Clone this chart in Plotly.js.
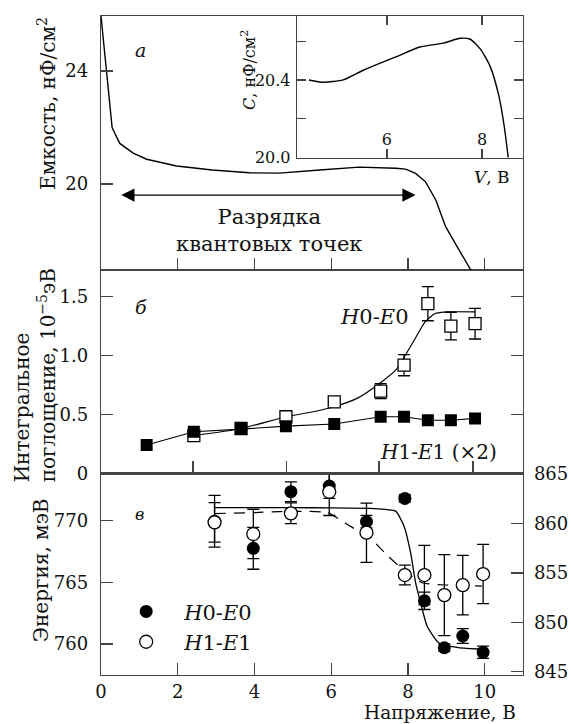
<!DOCTYPE html>
<html><head><meta charset="utf-8">
<script src="https://cdn.plot.ly/plotly-3.0.1.min.js"></script>
<style>body{margin:0;background:#fff}</style>
</head><body><div id="chart" style="width:571px;height:724px"></div>
<script>
// ---- Panel a: capacitance vs voltage ----
const capV = [0, 0.29, 0.36, 0.49, 0.84, 1.19, 1.97, 2.9, 3.87, 4.65, 5.7, 6.73, 7.68, 7.94, 8.2, 8.46, 8.73, 8.98, 9.32, 9.64];
const capC = [25.95, 22.0, 21.8, 21.44, 21.1, 20.88, 20.64, 20.5, 20.4, 20.39, 20.5, 20.6, 20.56, 20.53, 20.38, 20.08, 19.43, 18.5, 17.7, 16.96];
// inset
const insV = [4.36, 4.66, 5.08, 5.5, 5.99, 6.2, 6.69, 7.19, 7.54, 7.75, 7.96, 8.17, 8.35, 8.46, 8.55];
const insC = [20.40, 20.388, 20.40, 20.45, 20.50, 20.52, 20.57, 20.59, 20.615, 20.61, 20.56, 20.47, 20.32, 20.17, 20.0];
const insYTicks = [20.0, 20.2, 20.4, 20.6];
const insYText = ['20.0', ' ', '20.4', ' '];
const insXTicks = [6, 8];

// ---- Panel b: integrated absorption ----
const bV_H1 = [1.19, 2.42, 3.65, 4.82, 6.08, 7.29, 7.9, 8.52, 9.12, 9.75];
const absH1 = [0.24, 0.353, 0.375, 0.40, 0.418, 0.48, 0.48, 0.45, 0.45, 0.466];
const bV_H0 = [2.42, 3.65, 4.82, 6.08, 7.29, 7.9, 8.52, 9.12, 9.75];
const absH0 = [0.32, 0.38, 0.48, 0.607, 0.697, 0.918, 1.44, 1.25, 1.27];
const absH0Err = [null, null, null, null, 0.064, 0.09, 0.145, 0.117, 0.13];
const fitBV = [2.42, 3.65, 4.82, 5.5, 6.08, 6.7, 7.25, 7.68, 8.11, 8.45, 8.71, 9.06, 9.75];
const fitBY = [0.32, 0.38, 0.48, 0.52, 0.565, 0.64, 0.76, 0.875, 1.10, 1.285, 1.356, 1.37, 1.37];
const bTicks = [2.4, 4.83, 7.25, 9.7];
const bYTicks = [0, 0.5, 1.0, 1.5];
const bYText = ['0', '0.5', '1.0', '1.5'];

// ---- Panel c: energy ----
const cV = [2.96, 3.97, 4.95, 5.95, 6.92, 7.92, 8.43, 8.95, 9.43, 9.96];
const enH0 = [769.95, 767.76, 772.35, 772.81, 769.92, 771.8, 763.5, 759.7, 760.65, 759.33];
const enH0Err = [2.1, 1.7, 0.8, 1.0, 0.5, 0.3, 0.7, 0.3, 0.6, 0.5];
const enH1 = [860.11, 858.93, 861.02, 863.2, 859.06, 854.78, 854.78, 852.75, 853.76, 854.88];
const enH1Err = [2.0, 2.5, 1.05, 2.4, 3.0, 1.0, 3.0, 4.1, 3.0, 3.0];
const fitCV = [2.96, 4.0, 5.0, 6.0, 7.0, 7.25, 7.68, 7.9, 8.07, 8.2, 8.33, 8.5, 8.8, 9.32, 9.96];
const fitCE = [771.06, 771.06, 771.06, 771.03, 771.0, 770.95, 770.77, 769.55, 767.4, 764.97, 763.35, 761.46, 760.1, 759.7, 759.57];
const dashV = [2.96, 4.0, 4.65, 5.9, 6.38, 7.07, 7.5, 7.94, 8.37, 8.98, 9.93];
const dashE = [861.0, 861.1, 861.2, 861.1, 860.0, 858.3, 856.63, 855.11, 854.0, 853.77, 853.66];
const xTicks = [0, 2, 4, 6, 8, 10];
const leftTicks = [760, 765, 770];
const rightTicks = [845, 850, 855, 860, 865];

const AX = '#444';
const FONT = 'DejaVu Serif';
const BLK = '#000';

const traces = [
  {x: capV, y: capC, xaxis: 'x3', yaxis: 'y3', mode: 'lines', line: {color: BLK, width: 1.4}, showlegend: false},
  {x: insV, y: insC, xaxis: 'x4', yaxis: 'y5', mode: 'lines', line: {color: BLK, width: 1.4, shape: 'spline', smoothing: 0.6}, showlegend: false},
  {x: fitBV, y: fitBY, xaxis: 'x2', yaxis: 'y2', mode: 'lines', line: {color: BLK, width: 1.2, shape: 'spline', smoothing: 0.6}, showlegend: false},
  {x: bV_H0, y: absH0, xaxis: 'x2', yaxis: 'y2', mode: 'markers', showlegend: false,
   marker: {symbol: 'square', size: 12, color: '#fff', line: {color: BLK, width: 1.3}},
   error_y: {type: 'data', array: absH0Err, visible: true, color: BLK, thickness: 1.3, width: 6}},
  {x: bV_H1, y: absH1, xaxis: 'x2', yaxis: 'y2', mode: 'lines+markers', showlegend: false,
   line: {color: BLK, width: 1.1},
   marker: {symbol: 'square', size: 12, color: BLK}},
  {x: fitCV, y: fitCE, xaxis: 'x', yaxis: 'y', mode: 'lines', line: {color: BLK, width: 1.3, shape: 'spline', smoothing: 0.5}, showlegend: false},
  {x: cV, y: enH0, xaxis: 'x', yaxis: 'y', mode: 'markers', name: '<i>H</i>0-<i>E</i>0',
   marker: {symbol: 'circle', size: 13, color: BLK},
   error_y: {type: 'data', array: enH0Err, visible: true, color: BLK, thickness: 1.3, width: 6}},
  {x: dashV, y: dashE, xaxis: 'x', yaxis: 'y4', mode: 'lines', line: {color: BLK, width: 1.2, dash: '11px,8px', shape: 'spline', smoothing: 0.5}, showlegend: false},
  {x: cV, y: enH1, xaxis: 'x', yaxis: 'y4', mode: 'markers', name: '<i>H</i>1-<i>E</i>1',
   marker: {symbol: 'circle', size: 13, color: '#fff', line: {color: BLK, width: 1.3}},
   error_y: {type: 'data', array: enH1Err, visible: true, color: BLK, thickness: 1.3, width: 6}}
];

const base = {showgrid: false, zeroline: false, showline: true, linecolor: AX, linewidth: 1.3,
  ticks: 'inside', ticklen: 12, tickwidth: 1.3, tickcolor: AX, tickfont: {family: FONT, size: 18, color: '#111'}};

function pa(o) { return Object.assign({xref: 'paper', yref: 'paper', xanchor: 'center', yanchor: 'middle', showarrow: false}, o); }
function da(o) { return Object.assign({xanchor: 'center', yanchor: 'middle', showarrow: false}, o); }

const layout = {
  width: 571, height: 724,
  margin: {l: 101, r: 48, t: 16, b: 49},
  paper_bgcolor: '#fff', plot_bgcolor: 'rgba(0,0,0,0)',
  font: {family: FONT, size: 18, color: '#111'},
  showlegend: true,
  legend: {x: 0.017, y: 0.127, xanchor: 'left', yanchor: 'top', bgcolor: 'rgba(0,0,0,0)',
           itemwidth: 66, font: {family: FONT, size: 21, color: '#111'}, tracegroupgap: 0},
  xaxis: Object.assign({}, base, {domain: [0, 1], anchor: 'y', range: [0, 11], tickvals: xTicks, mirror: true, ticklabelstandoff: 0}),
  yaxis: Object.assign({}, base, {domain: [0, 0.3061], anchor: 'x', range: [757.49, 773.84], tickvals: leftTicks, ticklabelstandoff: 8}),
  yaxis4: Object.assign({}, base, {overlaying: 'y', side: 'right', anchor: 'x', range: [844.67, 865.07], tickvals: rightTicks, ticklabelstandoff: 6}),
  xaxis2: Object.assign({}, base, {domain: [0, 1], anchor: 'y2', range: [0, 11], tickvals: bTicks, showticklabels: false, mirror: true}),
  yaxis2: Object.assign({}, base, {domain: [0.3061, 0.6146], anchor: 'x2', range: [0, 1.726], tickvals: bYTicks, ticktext: bYText, mirror: 'ticks', ticklabelstandoff: 8}),
  xaxis3: Object.assign({}, base, {domain: [0, 1], anchor: 'y3', range: [0, 11], tickvals: xTicks, showticklabels: false, mirror: true}),
  yaxis3: Object.assign({}, base, {domain: [0.6146, 1], anchor: 'x3', range: [16.96, 25.95], tickvals: [20, 24], mirror: true, ticklabelstandoff: 8}),
  xaxis4: Object.assign({}, base, {domain: [0.4645, 1], anchor: 'y5', range: [4.11, 8.86], tickvals: insXTicks, ticklen: 9,
            mirror: 'ticks', ticklabelstandoff: -34, tickfont: {family: FONT, size: 16, color: '#111'}}),
  yaxis5: Object.assign({}, base, {domain: [0.7845, 1], anchor: 'x4', range: [19.997, 20.73], tickvals: insYTicks, ticktext: insYText, ticklen: 9,
            mirror: 'ticks', ticklabelstandoff: 2, tickfont: {family: FONT, size: 16, color: '#111'}}),
  annotations: [
    pa({x: -0.128, y: 0.868, text: 'Емкость, нФ/см<sup>2</sup>', textangle: -90, font: {size: 20}}),
    pa({x: -0.156, y: 0.455, text: 'Интегральное<br>поглощение, 10<sup>−5</sup>эВ', align: 'left', textangle: -90, font: {size: 20}}),
    pa({x: -0.142, y: 0.159, text: 'Энергия, мэВ', textangle: -90, font: {size: 20}}),
    pa({x: 0.803, y: -0.0565, text: 'Напряжение, В', font: {size: 18.5}}),
    pa({x: 0.348, y: 0.918, text: '<i>C</i>, нФ/см<sup>2</sup>', textangle: -90, font: {size: 16}}),
    pa({x: 0.9265, y: 0.7557, text: '<i>V</i>, В', font: {size: 17}}),
    da({xref: 'x3', yref: 'y3', x: 1.03, y: 24.75, text: '<i>а</i>', font: {size: 19}}),
    da({xref: 'x3', yref: 'y3', x: 4.39, y: 18.37, text: 'Разрядка<br>квантовых точек', font: {size: 21}}),
    {xref: 'x3', yref: 'y3', x: 8.2, y: 19.61, ax: 0.49, ay: 19.61, axref: 'x3', ayref: 'y3', text: '',
     showarrow: true, arrowside: 'end+start', arrowhead: 2, startarrowhead: 2, arrowsize: 2.2, startarrowsize: 2.2, arrowwidth: 1.2, arrowcolor: BLK, standoff: 0, startstandoff: 0},
    da({xref: 'x2', yref: 'y2', x: 1.03, y: 1.41, text: '<i>б</i>', font: {size: 19}}),
    da({xref: 'x2', yref: 'y2', x: 7.12, y: 1.326, text: '<i>H</i>0-<i>E</i>0', font: {size: 21}}),
    da({xref: 'x2', yref: 'y2', x: 8.8, y: 0.18, text: '<i>H</i>1-<i>E</i>1 (×2)', font: {size: 20}}),
    da({xref: 'x', yref: 'y', x: 1.01, y: 770.46, text: '<i>в</i>', font: {size: 16}})
  ]
};

Plotly.newPlot('chart', traces, layout, {displayModeBar: false, staticPlot: true});
</script></body></html>
